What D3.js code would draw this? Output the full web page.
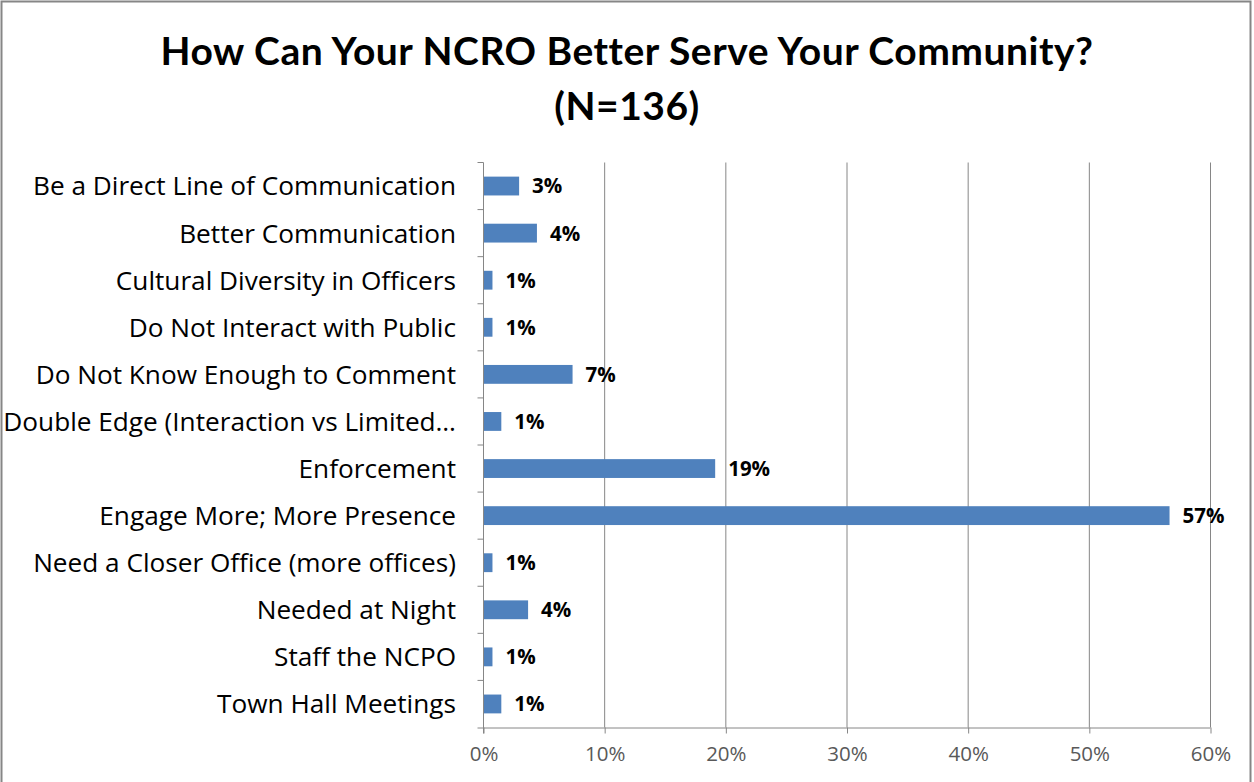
<!DOCTYPE html>
<html>
<head>
<meta charset="utf-8">
<script src="https://cdn.jsdelivr.net/npm/d3@7"></script>
<style>
  html, body { margin: 0; padding: 0; background: #fff; }
  svg { display: block; }
</style>
</head>
<body>
<svg id="chart" width="1254" height="782"></svg>
<script>
// Survey responses (share of N=136)
const categories = [
  "Be a Direct Line of Communication",
  "Better Communication",
  "Cultural Diversity in Officers",
  "Do Not Interact with Public",
  "Do Not Know Enough to Comment",
  "Double Edge (Interaction vs Limited…",
  "Enforcement",
  "Engage More; More Presence",
  "Need a Closer Office (more offices)",
  "Needed at Night",
  "Staff the NCPO",
  "Town Hall Meetings"
];
const values = [2.94, 4.41, 0.74, 0.74, 7.35, 1.47, 19.12, 56.62, 0.74, 3.68, 0.74, 1.47];
const tickValues = [0, 10, 20, 30, 40, 50, 60];
const titleLines = ["How Can Your NCRO Better Serve Your Community?", "(N=136)"];

const W = 1254, H = 782;
const svg = d3.select("#chart");
const titleFont = "Lato, sans-serif";
const font = "'Open Sans', Lato, sans-serif";

// outer frame
svg.append("rect")
  .attr("x", 1.5).attr("y", 1.5)
  .attr("width", 1249).attr("height", 790)
  .attr("fill", "#fff").attr("stroke", "#868686").attr("stroke-width", 2);

const margin = { left: 483.5, right: 1210.5, top: 162.5, bottom: 727.5 };

const x = d3.scaleLinear().domain([0, 60]).range([margin.left, margin.right]);
const y = d3.scaleBand().domain(categories).range([margin.top, margin.bottom]).paddingInner(0.6).paddingOuter(0.3);

// title
svg.append("g").selectAll("text").data(titleLines).join("text")
  .attr("x", 627).attr("y", (d, i) => 64.5 + i * 55)
  .attr("text-anchor", "middle")
  .attr("font-family", titleFont).attr("font-weight", "bold")
  .attr("font-size", 39).attr("letter-spacing", 0.5).attr("fill", "#000")
  .text(d => d);

// vertical gridlines
svg.append("g").selectAll("line").data(tickValues.slice(1)).join("line")
  .attr("x1", d => x(d)).attr("x2", d => x(d))
  .attr("y1", margin.top).attr("y2", margin.bottom)
  .attr("stroke", "#868686").attr("stroke-width", 1);

// bars
svg.append("g").selectAll("rect").data(values).join("rect")
  .attr("x", x(0))
  .attr("y", (d, i) => y(categories[i]))
  .attr("width", d => x(d) - x(0))
  .attr("height", y.bandwidth())
  .attr("fill", "#4F81BD");

// value labels
svg.append("g").selectAll("text").data(values).join("text")
  .attr("x", d => x(d) + 13)
  .attr("y", (d, i) => y(categories[i]) + y.bandwidth() / 2)
  .attr("dy", "0.36em")
  .attr("font-family", font).attr("font-weight", "bold")
  .attr("font-size", 20.5).attr("fill", "#000")
  .text(d => Math.round(d) + "%");

// bottom axis
const xAxis = d3.axisBottom(x).tickValues(tickValues).tickFormat(d => d + "%").tickSize(6).tickPadding(13);
const gx = svg.append("g").attr("transform", `translate(0,${margin.bottom})`).call(xAxis);
gx.select(".domain").attr("stroke", "#868686").attr("d", `M${margin.left - 6},0.5H${margin.right}`);
gx.selectAll(".tick line").attr("stroke", "#868686");
gx.selectAll(".tick text").attr("font-family", font).attr("font-size", 20.5).attr("fill", "#595959");

// left axis: line plus ticks on category boundaries
const gy = svg.append("g");
gy.append("line")
  .attr("x1", margin.left).attr("x2", margin.left)
  .attr("y1", margin.top).attr("y2", margin.bottom + 6)
  .attr("stroke", "#868686");
const step = y.step();
gy.selectAll("line.tick").data(d3.range(categories.length)).join("line")
  .attr("class", "tick")
  .attr("x1", margin.left - 6).attr("x2", margin.left)
  .attr("y1", i => margin.top + i * step).attr("y2", i => margin.top + i * step)
  .attr("stroke", "#868686");

// category labels
gy.selectAll("text").data(categories).join("text")
  .attr("x", 456)
  .attr("y", d => y(d) + y.bandwidth() / 2)
  .attr("dy", "0.36em")
  .attr("text-anchor", "end")
  .attr("font-family", font).attr("font-size", 26.2).attr("fill", "#000")
  .text(d => d);
</script>
</body>
</html>
